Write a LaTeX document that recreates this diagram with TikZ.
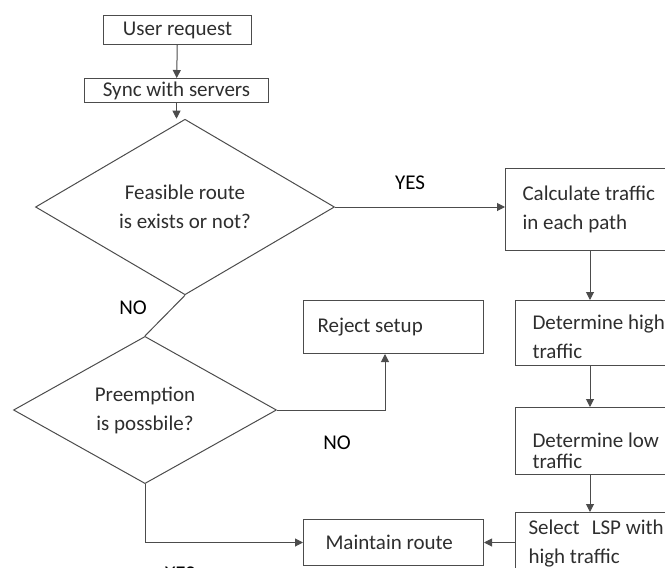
\documentclass[tikz,border=0pt]{standalone}
\usepackage{fontspec}
\setmainfont{Carlito}
\usetikzlibrary{positioning,arrows.meta,calc,shapes.geometric}
\definecolor{linec}{gray}{0.3}
\definecolor{txtc}{gray}{0.18}
\tikzset{
  flow/.style={-{Triangle[length=8pt,width=8pt]},line width=1pt,draw=linec},
  plain/.style={line width=1pt,draw=linec},
  procbox/.style={draw=linec,line width=1pt,anchor=north west,inner ysep=0pt,
    text=txtc,font=\fontsize{21}{29}\selectfont},
  lbox/.style={procbox,align=left,execute at begin node={\spaceskip=0pt\relax}},
  cbox/.style={procbox,align=center,inner xsep=0pt},
  decide/.style={diamond,draw=linec,line width=1pt,inner sep=0pt,align=center,
    text=txtc,font=\fontsize{21}{29}\selectfont},
  ans/.style={font=\fontsize{21}{25}\selectfont,text=black},
}
\begin{document}
\begin{tikzpicture}[x=1pt,y=-1pt]
  \useasboundingbox (0,0) rectangle (665,568);
  % left column
  \node[cbox,minimum width=148pt,minimum height=29pt] (usr) at (103,15) {User request};
  \node[cbox,minimum width=184pt,minimum height=24pt] (sync) at (84,78) {Sync with servers};
  \node[decide,minimum width=299pt,minimum height=141pt] (feas) at (185,207)
    {Feasible route\\is exists or not?};
  \node[decide,minimum width=263pt,minimum height=144pt] (pre) at (145,410)
    {Preemption\\is possbile?};
  % middle column
  \node[lbox,minimum width=180pt,minimum height=53pt,inner xsep=14pt,text width=152pt] (reject) at (303,300)
    {Reject setup};
  \node[lbox,minimum width=180pt,minimum height=46pt,inner xsep=22pt,text width=136pt] (keep) at (303,519)
    {Maintain route};
  % right column
  \node[lbox,minimum width=175pt,minimum height=82pt,inner xsep=17pt,text width=150pt] (traf) at (505,168)
    {Calculate traffic\\in each path};
  \node[lbox,minimum width=170pt,minimum height=65pt,inner xsep=17pt,text width=150pt] (hitr) at (515,300)
    {\rule{0pt}{22pt}Determine high\\traffic};
  \node[lbox,minimum width=170pt,minimum height=67pt,inner xsep=17pt,text width=150pt] (lotr) at (515,407)
    {\rule{0pt}{34pt}Determine low\\[-8pt]traffic};
  \node[lbox,minimum width=170pt,minimum height=62pt,inner xsep=13pt,text width=150pt] (pick) at (515,512)
    {Select\hspace{12pt}LSP with\\high traffic};
  \coordinate (colx) at (590,0);
  % connectors
  \draw[flow] (usr) -- (sync);
  \draw[flow] (sync.south) -- (sync.south |- feas.north);
  \draw[flow] (feas.east) -- (feas.east -| traf.west);
  \draw[flow] (traf.south -| colx) -- (hitr.north -| colx);
  \draw[flow] (hitr.south -| colx) -- (lotr.north -| colx);
  \draw[flow] (lotr.south -| colx) -- (pick.north -| colx);
  \draw[flow] (pick.west |- keep.east) -- (keep.east);
  \draw[plain] (feas.south) -- (pre.north);
  \draw[flow] (pre.east) -| ($(reject.south west)+(82,0)$);
  \draw[flow] (pre.south) |- (keep.west);
  % answers
  \node[ans] (yes1) at (410,183) {YES};
  \node[ans] (no1) at (133,308) {NO};
  \node[ans] (no2) at (337,443) {NO};
  \node[ans] (yes2) at (180,574) {YES};
\end{tikzpicture}
\end{document}
